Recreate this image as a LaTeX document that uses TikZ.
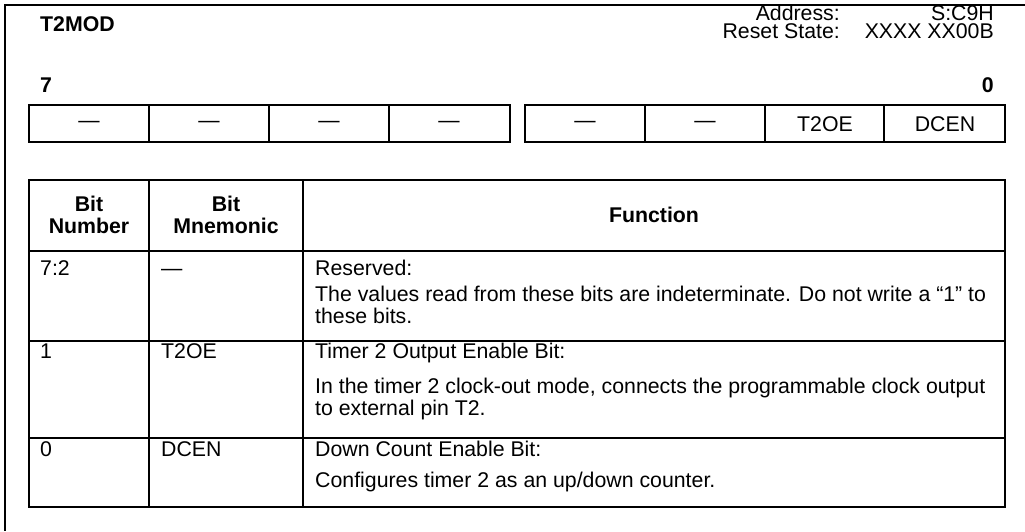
\documentclass[tikz,border=0pt]{standalone}
\usepackage{fontspec}
\setmainfont{Liberation Sans}

\begin{document}
\begin{tikzpicture}[x=1pt,y=-1pt,
		txt/.style={inner sep=0pt,font=\fontsize{21.3}{22}\selectfont},
		bold/.style={inner sep=0pt,font=\fontsize{21.3}{22}\selectfont\bfseries},
		head/.style={txt,anchor=base east,text height=15pt,text depth=0pt},
		frame/.style={line width=1.8pt},
		cell/.style={line width=1.5pt}]
		\useasboundingbox (0,0) rectangle (1025,531);
		\draw[frame] (1025,5) -- (5,5) -- (5,531);
		\node[bold,anchor=base west] (title) at (40,31) {T2MOD};
		\node[head] (addr) at (840,20) {Address:};
		\node[head] (addrval) at (994,20) {S:C9H};
		\node[head] (reset) at (840,38) {Reset State:};
		\node[head] (resetval) at (994,38) {XXXX XX00B};
		\node[bold,anchor=base west] (msb) at (40,92) {7};
		\node[bold,anchor=base east] (lsb) at (994,92) {0};
		\draw[cell] (29,105) rectangle (510,142);
		\draw[cell] (525,105) rectangle (1005,142);
		\foreach \x in {149,269,389,645,765,884}
			\draw[cell] (\x,105) -- (\x,142);
		\foreach \x/\t/\n in {89/---/b7,209/---/b6,329/---/b5,449/---/b4,585/---/b3,705/---/b2,825/T2OE/b1,945/DCEN/b0}
			\node[txt] (\n) at (\x,124) {\t};
		\draw[cell] (29,180) rectangle (1005,507);
		\draw[cell] (149,180) -- (149,507);
		\draw[cell] (303,180) -- (303,507);
		\foreach \y in {251,341,438}
			\draw[cell] (29,\y) -- (1005,\y);
		\node[bold,align=center] (hnum) at (89,215) {Bit\\Number};
		\node[bold,align=center] (hmnem) at (226,215) {Bit\\Mnemonic};
		\node[bold] (hfunc) at (654,215) {Function};
		\node[txt,anchor=base west] (n72) at (40,275) {7:2};
		\node[txt,anchor=base west] (m72) at (161,275) {---};
		\node[txt,anchor=base west] (f72a) at (315,275) {Reserved:};
		\node[txt,anchor=base west] (f72b) at (315,301) {The values read from these bits are indeterminate. Do not write a ``1'' to};
		\node[txt,anchor=base west] (f72c) at (315,323) {these bits.};
		\node[txt,anchor=base west] (n1) at (40,358) {1};
		\node[txt,anchor=base west] (m1) at (161,358) {T2OE};
		\node[txt,anchor=base west] (f1a) at (315,358) {Timer 2 Output Enable Bit:};
		\node[txt,anchor=base west] (f1b) at (315,393) {In the timer 2 clock-out mode, connects the programmable clock output};
		\node[txt,anchor=base west] (f1c) at (315,415) {to external pin T2.};
		\node[txt,anchor=base west] (n0) at (40,456) {0};
		\node[txt,anchor=base west] (m0) at (161,456) {DCEN};
		\node[txt,anchor=base west] (f0a) at (315,456) {Down Count Enable Bit:};
		\node[txt,anchor=base west] (f0b) at (315,487) {Configures timer 2 as an up/down counter.};
	\end{tikzpicture}
\end{document}
